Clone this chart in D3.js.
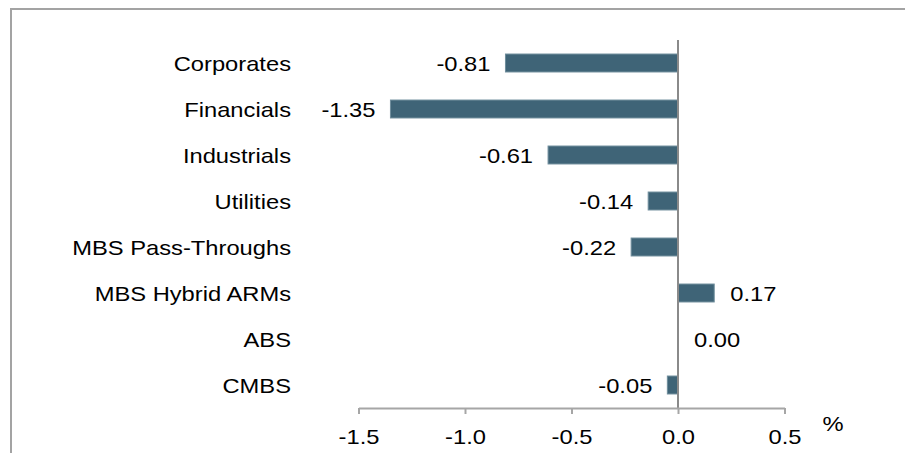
<!DOCTYPE html>
<html>
<head>
<meta charset="utf-8">
<script src="https://cdn.jsdelivr.net/npm/d3@7"></script>
<style>
  body { margin: 0; background: #fff; }
  svg { display: block; }
  text { font-family: "Liberation Sans", Arial, sans-serif; fill: #000; }
</style>
</head>
<body>
<svg id="chart"></svg>
<script>
"use strict";

// Sectors, top to bottom
const sectors = ["Corporates", "Financials", "Industrials", "Utilities",
    "MBS Pass-Throughs", "MBS Hybrid ARMs", "ABS", "CMBS"];

// Values in %
const values = [-0.81, -1.35, -0.61, -0.14, -0.22, 0.17, 0.00, -0.05];

// X-axis ticks
const xTicks = [-1.5, -1.0, -0.5, 0.0, 0.5];

const width = 905, height = 453;
const fontSize = 21, stretch = 1.13;

const svg = d3.select("#chart")
    .attr("width", width)
    .attr("height", height);

// frame round the chart (runs off the right and bottom edge)
svg.append("rect")
    .attr("x", 11).attr("y", 9)
    .attr("width", width + 20).attr("height", height + 20)
    .attr("fill", "none")
    .attr("stroke", "#a3a3a3")
    .attr("stroke-width", 2);

const x = d3.scaleLinear().domain([-1.5, 0.5]).range([358.5, 784.5]);
const y = d3.scaleBand().domain(sectors).range([40, 408])
    .paddingInner(0.61).paddingOuter(0.305);

// place a horizontally widened text
function label(g, tx, ty, str, anchor) {
    return g.append("text")
        .attr("transform", `translate(${tx},${ty}) scale(${stretch},1)`)
        .attr("text-anchor", anchor)
        .style("font-size", fontSize + "px")
        .text(str);
}

// bars
svg.append("g").selectAll("rect")
    .data(values)
    .join("rect")
    .attr("x", (d) => x(Math.min(0, d)))
    .attr("y", (d, i) => y(sectors[i]))
    .attr("width", (d) => Math.abs(x(d) - x(0)))
    .attr("height", y.bandwidth())
    .attr("fill", "#3f6477")
    .attr("stroke", "#6f8d9c")
    .attr("stroke-width", (d) => d === 0 ? 0 : 1);

// zero line
svg.append("line")
    .attr("x1", x(0)).attr("x2", x(0))
    .attr("y1", 40).attr("y2", 408)
    .attr("stroke", "#8a8a8a")
    .attr("stroke-width", 2);

// x axis (plain hyphen for the minus sign, as in the original)
const xAxis = svg.append("g")
    .attr("transform", "translate(0,408)")
    .call(d3.axisBottom(x).tickValues(xTicks).tickFormat((d) => d.toFixed(1))
        .tickSize(6).tickSizeOuter(0).tickPadding(15));
xAxis.select(".domain").attr("stroke", "#a6a6a6").attr("stroke-width", 2);
xAxis.selectAll(".tick line").attr("stroke", "#a6a6a6").attr("stroke-width", 2);
xAxis.selectAll(".tick text")
    .attr("fill", "#000")
    .style("font-size", fontSize + "px")
    .style("font-family", "\"Liberation Sans\", Arial, sans-serif")
    .attr("transform", `scale(${stretch},1)`);

label(svg, 833, 431, "%", "middle");

// category labels and value labels
const labels = svg.append("g");
sectors.forEach((s, i) => {
    const cy = y(s) + y.bandwidth() / 2 + 0.36 * fontSize;
    label(labels, 291, cy, s, "end");
    const v = values[i];
    if (v < 0) label(labels, x(v) - 15, cy, v.toFixed(2), "end");
    else label(labels, x(v) + 16, cy, v.toFixed(2), "start");
});
</script>
</body>
</html>
